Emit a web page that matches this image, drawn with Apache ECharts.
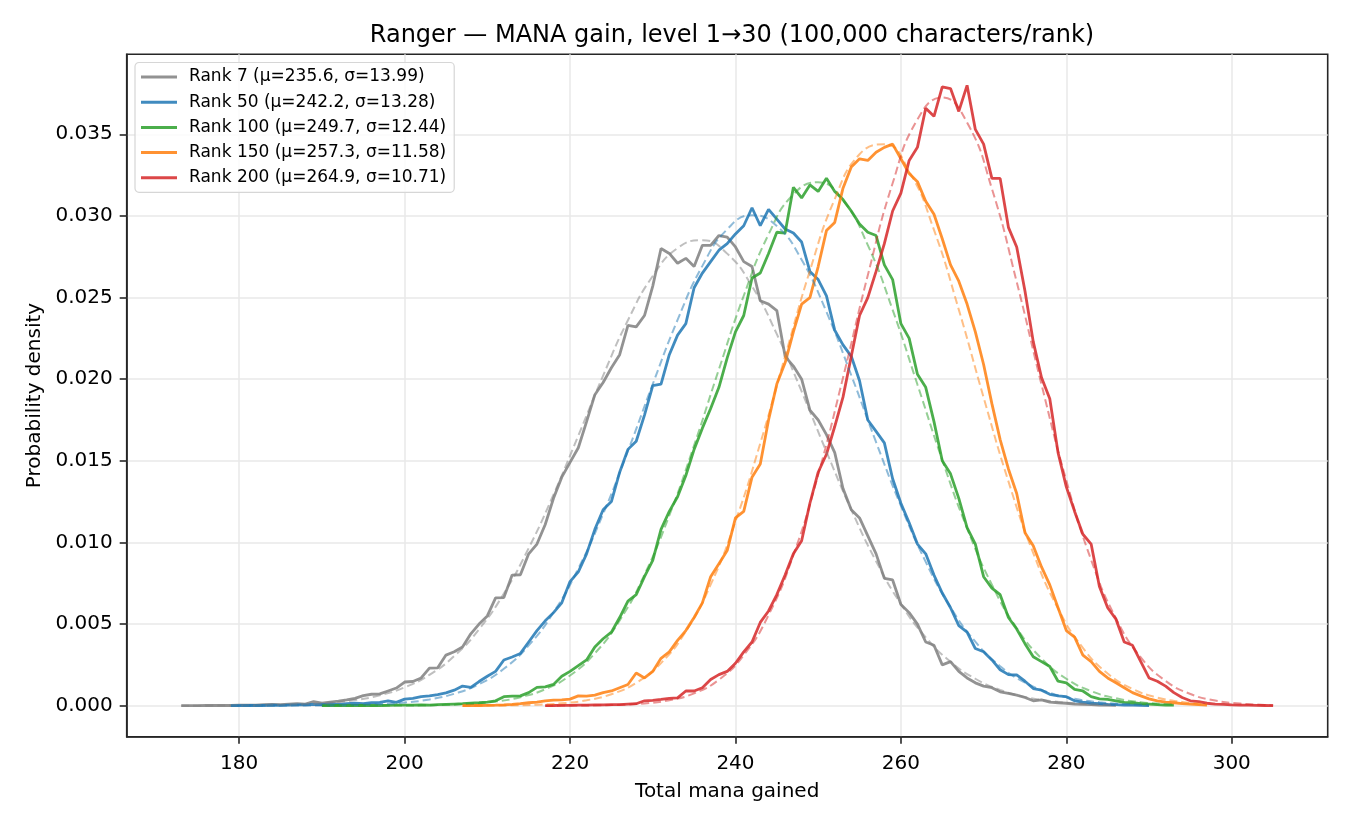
<!DOCTYPE html>
<html>
<head>
<meta charset="utf-8">
<title>Ranger — MANA gain</title>
<script src="https://cdn.jsdelivr.net/npm/echarts@6/dist/echarts.min.js"></script>
<style>
  html, body { margin: 0; padding: 0; background: #fff; }
  #chart { width: 1350px; height: 825px; }
</style>
</head>
<body>
<div id="chart"></div>
<script>
// series names / colours
const rankNames = [
  "Rank 7 (μ=235.6, σ=13.99)",
  "Rank 50 (μ=242.2, σ=13.28)",
  "Rank 100 (μ=249.7, σ=12.44)",
  "Rank 150 (μ=257.3, σ=11.58)",
  "Rank 200 (μ=264.9, σ=10.71)",
];
const rankColors = ["#7f7f7f", "#1f77b4", "#2ca02c", "#ff7f0e", "#d62728"];

const xTicks = [180, 200, 220, 240, 260, 280, 300];
const yTicks = [0, 0.005, 0.01, 0.015, 0.02, 0.025, 0.03, 0.035];

// histogram densities, one value per unit of mana, starting at *Start
const rank7Start = 173;
const rank7Density = [
  0.00000, 0.00000, 0.00000, 0.00001, 0.00001, 0.00002, 0.00001, 0.00003, 0.00004, 0.00003,
  0.00006, 0.00008, 0.00006, 0.00010, 0.00012, 0.00010, 0.00025, 0.00015, 0.00022, 0.00028,
  0.00035, 0.00045, 0.00062, 0.00070, 0.00072, 0.00090, 0.00108, 0.00145, 0.00148, 0.00170,
  0.00230, 0.00232, 0.00310, 0.00330, 0.00360, 0.00440, 0.00500, 0.00550, 0.00660, 0.00662,
  0.00800, 0.00802, 0.00930, 0.00990, 0.01110, 0.01270, 0.01400, 0.01490, 0.01580, 0.01740,
  0.01905, 0.01980, 0.02070, 0.02150, 0.02330, 0.02320, 0.02390, 0.02570, 0.02800, 0.02770,
  0.02710, 0.02740, 0.02690, 0.02820, 0.02820, 0.02880, 0.02870, 0.02810, 0.02720, 0.02690,
  0.02480, 0.02460, 0.02420, 0.02140, 0.02080, 0.02000, 0.01810, 0.01750, 0.01660, 0.01550,
  0.01330, 0.01200, 0.01150, 0.01040, 0.00930, 0.00780, 0.00770, 0.00620, 0.00570, 0.00500,
  0.00390, 0.00370, 0.00250, 0.00270, 0.00210, 0.00170, 0.00140, 0.00120, 0.00110, 0.00085,
  0.00075, 0.00065, 0.00050, 0.00030, 0.00035, 0.00022, 0.00018, 0.00015, 0.00010, 0.00008,
  0.00006, 0.00004, 0.00003, 0.00002,
];

const rank50Start = 179;
const rank50Density = [
  0.00000, 0.00000, 0.00001, 0.00002, 0.00001, 0.00003, 0.00002, 0.00004, 0.00005, 0.00005,
  0.00008, 0.00007, 0.00010, 0.00008, 0.00012, 0.00015, 0.00012, 0.00018, 0.00020, 0.00030,
  0.00020, 0.00040, 0.00045, 0.00055, 0.00060, 0.00068, 0.00078, 0.00095, 0.00120, 0.00112,
  0.00148, 0.00180, 0.00210, 0.00280, 0.00298, 0.00320, 0.00390, 0.00460, 0.00520, 0.00570,
  0.00630, 0.00760, 0.00820, 0.00930, 0.01080, 0.01200, 0.01250, 0.01430, 0.01570, 0.01620,
  0.01780, 0.01960, 0.01970, 0.02150, 0.02270, 0.02340, 0.02560, 0.02650, 0.02720, 0.02790,
  0.02830, 0.02890, 0.02940, 0.03050, 0.02940, 0.03040, 0.02980, 0.02920, 0.02895, 0.02840,
  0.02660, 0.02610, 0.02510, 0.02300, 0.02210, 0.02140, 0.01990, 0.01750, 0.01680, 0.01610,
  0.01390, 0.01240, 0.01120, 0.00990, 0.00930, 0.00800, 0.00690, 0.00600, 0.00490, 0.00450,
  0.00350, 0.00330, 0.00280, 0.00220, 0.00190, 0.00188, 0.00150, 0.00105, 0.00095, 0.00070,
  0.00060, 0.00055, 0.00030, 0.00022, 0.00015, 0.00012, 0.00008, 0.00006, 0.00004, 0.00003,
  0.00002, 0.00001,
];

const rank100Start = 190;
const rank100Density = [
  0.00000, 0.00000, 0.00001, 0.00000, 0.00001, 0.00001, 0.00002, 0.00001, 0.00002, 0.00003,
  0.00003, 0.00004, 0.00005, 0.00004, 0.00006, 0.00008, 0.00010, 0.00012, 0.00015, 0.00018,
  0.00022, 0.00030, 0.00055, 0.00058, 0.00060, 0.00080, 0.00112, 0.00115, 0.00130, 0.00180,
  0.00210, 0.00245, 0.00280, 0.00360, 0.00410, 0.00450, 0.00540, 0.00640, 0.00680, 0.00790,
  0.00890, 0.01080, 0.01190, 0.01280, 0.01410, 0.01570, 0.01700, 0.01820, 0.01950, 0.02130,
  0.02290, 0.02390, 0.02620, 0.02650, 0.02770, 0.02900, 0.02895, 0.03175, 0.03110, 0.03190,
  0.03150, 0.03230, 0.03150, 0.03100, 0.03030, 0.02950, 0.02900, 0.02880, 0.02700, 0.02610,
  0.02340, 0.02250, 0.02030, 0.01950, 0.01740, 0.01500, 0.01420, 0.01270, 0.01090, 0.00990,
  0.00790, 0.00720, 0.00680, 0.00540, 0.00470, 0.00380, 0.00300, 0.00270, 0.00240, 0.00150,
  0.00140, 0.00100, 0.00090, 0.00055, 0.00042, 0.00038, 0.00030, 0.00020, 0.00018, 0.00012,
  0.00010, 0.00006, 0.00004, 0.00003,
];

const rank150Start = 207;
const rank150Density = [
  0.00000, 0.00001, 0.00001, 0.00002, 0.00003, 0.00005, 0.00008, 0.00012, 0.00018, 0.00022,
  0.00030, 0.00034, 0.00036, 0.00040, 0.00060, 0.00058, 0.00065, 0.00080, 0.00090, 0.00110,
  0.00130, 0.00200, 0.00170, 0.00210, 0.00290, 0.00330, 0.00400, 0.00460, 0.00540, 0.00630,
  0.00790, 0.00870, 0.00950, 0.01150, 0.01190, 0.01400, 0.01480, 0.01750, 0.01970, 0.02100,
  0.02290, 0.02460, 0.02500, 0.02690, 0.02910, 0.02960, 0.03170, 0.03300, 0.03350, 0.03340,
  0.03390, 0.03420, 0.03440, 0.03350, 0.03260, 0.03210, 0.03090, 0.03010, 0.02860, 0.02700,
  0.02600, 0.02460, 0.02290, 0.02090, 0.01850, 0.01630, 0.01450, 0.01300, 0.01060, 0.00980,
  0.00850, 0.00740, 0.00600, 0.00460, 0.00420, 0.00310, 0.00270, 0.00210, 0.00170, 0.00140,
  0.00110, 0.00080, 0.00060, 0.00042, 0.00030, 0.00022, 0.00018, 0.00013, 0.00010, 0.00006,
  0.00004,
];

const rank200Start = 217;
const rank200Density = [
  0.00000, 0.00001, 0.00002, 0.00002, 0.00003, 0.00004, 0.00005, 0.00005, 0.00006, 0.00007,
  0.00010, 0.00012, 0.00030, 0.00032, 0.00038, 0.00045, 0.00048, 0.00090, 0.00090, 0.00110,
  0.00160, 0.00190, 0.00210, 0.00260, 0.00330, 0.00390, 0.00510, 0.00580, 0.00680, 0.00800,
  0.00930, 0.01010, 0.01240, 0.01430, 0.01540, 0.01710, 0.01890, 0.02140, 0.02390, 0.02500,
  0.02660, 0.02830, 0.03030, 0.03140, 0.03340, 0.03420, 0.03660, 0.03610, 0.03790, 0.03780,
  0.03640, 0.03800, 0.03530, 0.03440, 0.03230, 0.03230, 0.02930, 0.02810, 0.02540, 0.02230,
  0.02010, 0.01880, 0.01550, 0.01340, 0.01190, 0.01050, 0.00990, 0.00730, 0.00600, 0.00530,
  0.00390, 0.00370, 0.00270, 0.00170, 0.00150, 0.00120, 0.00080, 0.00050, 0.00030, 0.00025,
  0.00015, 0.00010, 0.00008, 0.00005, 0.00004, 0.00003, 0.00002, 0.00001, 0.00000,
];

// normal-fit curves (dashed)
const fit7X = [173, 176, 179, 182, 185, 188, 191, 194, 197, 200, 203, 206, 209, 212, 215, 218, 221, 224, 227, 230,
  233, 236, 239, 242, 245, 248, 251, 254, 257, 260, 263, 266, 269, 272, 275, 278, 281, 284, 286];
const fit7Y = [0.000001, 0.000003, 0.000008, 0.0000185, 0.000041, 0.000087, 0.000177, 0.000343, 0.000634, 0.00112,
  0.00189, 0.00304, 0.00468, 0.00687, 0.00965, 0.01293, 0.01654, 0.02022, 0.02361, 0.02632,
  0.02803, 0.02851, 0.02769, 0.02569, 0.02276, 0.01925, 0.01556, 0.01201, 0.00885, 0.00623,
  0.00419, 0.00269, 0.00165, 0.000966, 0.00054, 0.000289, 0.000147, 0.000072, 0.000043];

const fit50X = [179, 182, 185, 188, 191, 194, 197, 200, 203, 206, 209, 212, 215, 218, 221, 224, 227, 230, 233, 236,
  239, 242, 245, 248, 251, 254, 257, 260, 263, 266, 269, 272, 275, 278, 281, 284, 287, 290];
const fit50Y = [0.0000004, 0.000001, 0.0000028, 0.0000073, 0.0000178, 0.000041, 0.000092, 0.000193, 0.000385, 0.000731,
  0.00132, 0.00226, 0.00369, 0.00571, 0.0084, 0.01175, 0.0156, 0.0197, 0.02363, 0.02694,
  0.02918, 0.03004, 0.02938, 0.02731, 0.02412, 0.02024, 0.01614, 0.01224, 0.00881, 0.00603,
  0.00392, 0.00242, 0.00142, 0.000793, 0.000421, 0.000212, 0.000102, 0.000046];

const fit100X = [190, 193, 196, 199, 202, 205, 208, 211, 214, 217, 220, 223, 226, 229, 232, 235, 238, 241, 244, 247,
  250, 253, 256, 259, 262, 265, 268, 271, 274, 277, 280, 283, 286, 289, 292, 293];
const fit100Y = [0.0000003, 0.000001, 0.0000029, 0.000008, 0.0000206, 0.0000504, 0.000116, 0.000254, 0.000522, 0.00101,
  0.00185, 0.00321, 0.00522, 0.00803, 0.01165, 0.01595, 0.02061, 0.02511, 0.02887, 0.03132,
  0.03206, 0.03096, 0.02821, 0.02425, 0.01967, 0.01505, 0.01087, 0.00741, 0.00476, 0.00289,
  0.00165, 0.000892, 0.000454, 0.000218, 0.000099, 0.000075];

const fit150X = [207, 210, 213, 216, 219, 222, 225, 228, 231, 234, 237, 240, 243, 246, 249, 252, 255, 258, 261, 264,
  267, 270, 273, 276, 279, 282, 285, 288, 291, 294, 297];
const fit150Y = [0.0000028, 0.0000082, 0.0000228, 0.0000596, 0.000145, 0.000331, 0.000704, 0.0014, 0.00261, 0.00455,
  0.00741, 0.01129, 0.01607, 0.0214, 0.02665, 0.03103, 0.03378, 0.03439, 0.03273, 0.02914,
  0.02426, 0.01888, 0.01374, 0.00935, 0.00595, 0.00354, 0.00197, 0.00103, 0.000499, 0.000227,
  0.000096];

const fit200X = [217, 220, 223, 226, 229, 232, 235, 238, 241, 244, 247, 250, 253, 256, 259, 262, 265, 268, 271, 274,
  277, 280, 283, 286, 289, 292, 295, 298, 301, 304, 305];
const fit200Y = [0.0000017, 0.0000057, 0.0000177, 0.000051, 0.000135, 0.000333, 0.000757, 0.00159, 0.00309, 0.00555,
  0.00922, 0.01415, 0.02009, 0.02637, 0.032, 0.03591, 0.03725, 0.03572, 0.03167, 0.02596,
  0.01967, 0.01379, 0.00893, 0.00535, 0.00296, 0.00152, 0.000717, 0.000314, 0.000127, 0.000048,
  0.000034];

const histData = [
  [rank7Start, rank7Density],
  [rank50Start, rank50Density],
  [rank100Start, rank100Density],
  [rank150Start, rank150Density],
  [rank200Start, rank200Density],
];
const fitData = [
  [fit7X, fit7Y],
  [fit50X, fit50Y],
  [fit100X, fit100Y],
  [fit150X, fit150Y],
  [fit200X, fit200Y],
];

const FONT = "DejaVu Sans";
const AXIS_COLOR = "#262626";

function histPairs(start, values) {
  return values.map((v, i) => [start + i, v]);
}

function buildSeries() {
  const series = [];
  for (let i = 0; i < rankNames.length; i++) {
    const color = rankColors[i];
    series.push({
      name: rankNames[i],
      type: "line",
      data: histPairs(histData[i][0], histData[i][1]),
      showSymbol: false,
      symbol: "none",
      itemStyle: { color: color, opacity: 0.85 },
      lineStyle: { color: color, width: 2.8, opacity: 0.85 },
      z: 3,
    });
    series.push({
      name: rankNames[i] + " fit",
      type: "line",
      data: fitData[i][0].map((x, j) => [x, fitData[i][1][j]]),
      showSymbol: false,
      symbol: "none",
      // 拟合曲线用平滑虚线
      smooth: true,
      itemStyle: { color: color },
      lineStyle: { color: color, width: 2, type: [8, 4], opacity: 0.5 },
      z: 4,
    });
  }
  return series;
}

const option = {
  animation: false,
  backgroundColor: "#ffffff",
  textStyle: { fontFamily: FONT },
  title: {
    text: "Ranger — MANA gain, level 1→30 (100,000 characters/rank)",
    left: 727,
    top: 19,
    textAlign: "center",
    textStyle: { fontFamily: FONT, fontSize: 24, fontWeight: "normal", color: "#000" },
  },
  legend: {
    data: rankNames,
    orient: "vertical",
    left: 135,
    top: 62.5,
    padding: [6, 8, 6, 6],
    itemGap: 8.2,
    itemWidth: 36,
    itemHeight: 3,
    icon: "rect",
    backgroundColor: "rgba(255,255,255,0.8)",
    borderColor: "#d6d6d6",
    borderWidth: 1.2,
    borderRadius: 4,
    textStyle: { fontFamily: FONT, fontSize: 17, color: "#000", padding: [0, 0, 0, 7] },
  },
  grid: {
    left: 126.7,
    right: 22.3,
    top: 54.3,
    bottom: 88.3,
    show: true,
    borderColor: AXIS_COLOR,
    borderWidth: 1.6,
    backgroundColor: "transparent",
  },
  xAxis: {
    type: "value",
    min: 166.4,
    max: 311.6,
    name: "Total mana gained",
    nameLocation: "middle",
    nameGap: 45,
    nameTextStyle: { fontFamily: FONT, fontSize: 20, color: "#000" },
    axisLine: { show: true, onZero: false, lineStyle: { color: AXIS_COLOR, width: 1.6 } },
    axisTick: { show: true, length: 7, lineStyle: { color: AXIS_COLOR, width: 1.6 }, customValues: xTicks },
    axisLabel: { fontFamily: FONT, fontSize: 20, color: "#000", margin: 17, customValues: xTicks },
    splitLine: { show: true, lineStyle: { color: "#e8e8e8", width: 1.5 } },
  },
  yAxis: {
    type: "value",
    min: -0.0019,
    max: 0.0399,
    name: "Probability density",
    nameLocation: "middle",
    nameGap: 82,
    nameTextStyle: { fontFamily: FONT, fontSize: 20, color: "#000" },
    axisLine: { show: true, onZero: false, lineStyle: { color: AXIS_COLOR, width: 1.6 } },
    axisTick: { show: true, length: 7, lineStyle: { color: AXIS_COLOR, width: 1.6 }, customValues: yTicks },
    axisLabel: {
      fontFamily: FONT,
      fontSize: 20,
      color: "#000",
      margin: 14,
      customValues: yTicks,
      formatter: (v) => v.toFixed(3),
    },
    splitLine: { show: true, lineStyle: { color: "#e8e8e8", width: 1.5 } },
  },
  series: buildSeries(),
};

const chart = echarts.init(document.getElementById("chart"), null, { renderer: "canvas" });
chart.setOption(option);
</script>
</body>
</html>
